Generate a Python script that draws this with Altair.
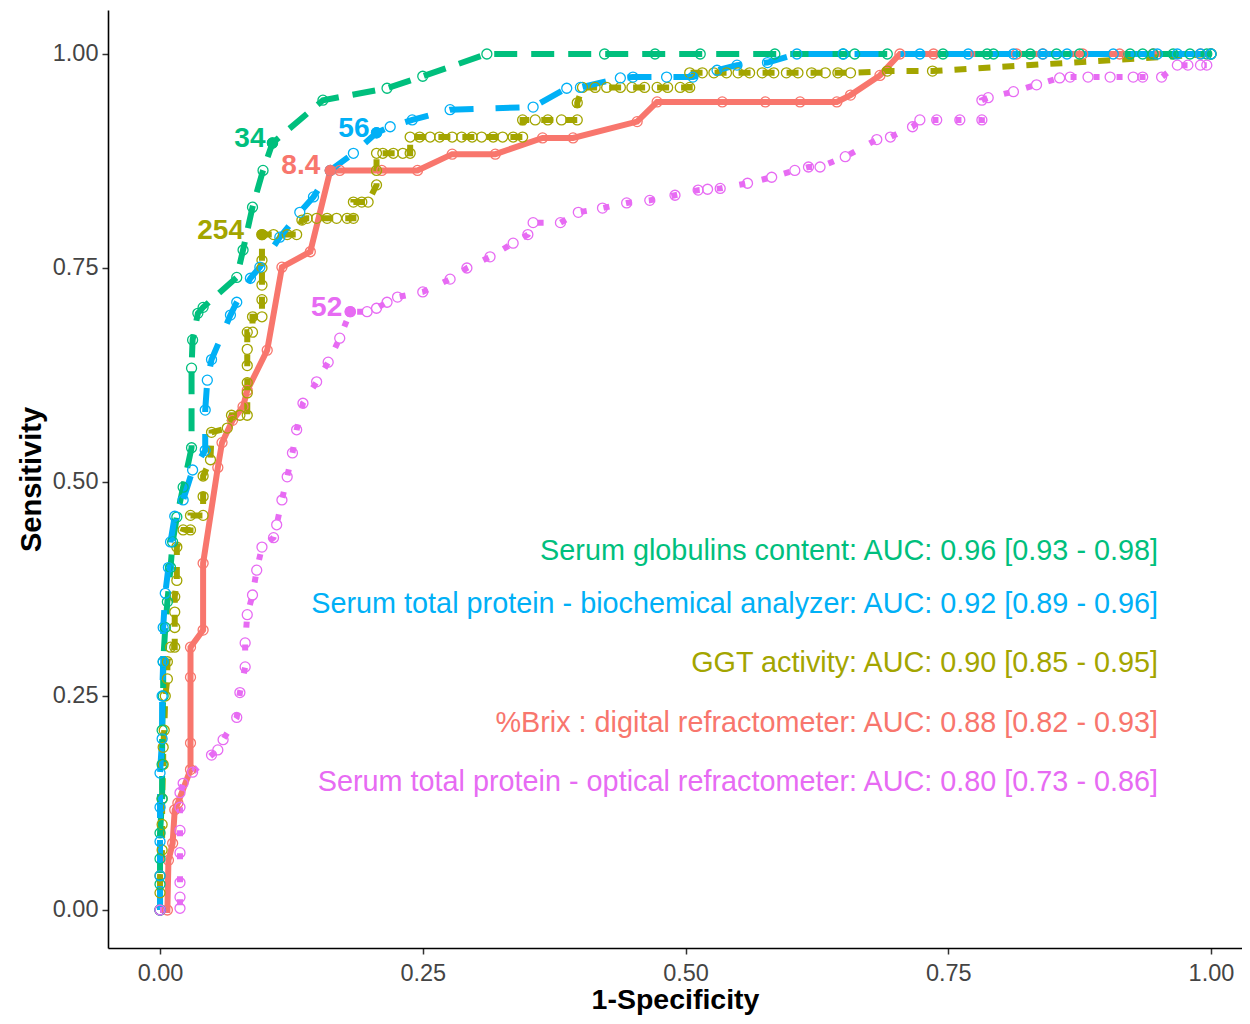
import altair as alt
import pandas as pd

# ---------------- data ----------------
series_names = [
    "%Brix : digital refractometer",
    "GGT activity",
    "Serum globulins content",
    "Serum total protein - biochemical analyzer",
    "Serum total protein - optical refractometer",
]
series_colors = ["#F8766D", "#A3A500", "#00BF7D", "#00B0F6", "#E76BF3"]

red_x = [0.0, 0.007, 0.008, 0.012, 0.014, 0.017, 0.029, 0.029, 0.029, 0.029, 0.041, 0.041, 0.055, 0.059, 0.069,
         0.079, 0.083, 0.102, 0.116, 0.143, 0.162, 0.171, 0.211, 0.245, 0.278, 0.319, 0.364, 0.393, 0.454, 0.473,
         0.535, 0.576, 0.609, 0.644, 0.657, 0.685, 0.704, 0.736, 0.815, 0.840, 0.878, 0.913, 0.945, 0.990, 1.0]
red_y = [0.0, 0.0, 0.058, 0.078, 0.117, 0.125, 0.164, 0.195, 0.272, 0.307, 0.327, 0.405, 0.517, 0.546, 0.572,
         0.588, 0.607, 0.654, 0.751, 0.769, 0.864, 0.864, 0.864, 0.864, 0.883, 0.883, 0.902, 0.902, 0.921, 0.944,
         0.944, 0.944, 0.944, 0.944, 0.952, 0.975, 1.0, 1.0, 1.0, 1.0, 1.0, 1.0, 1.0, 1.0, 1.0]

olive_x = [0.0, 0.0, 0.0, 0.002, 0.002, 0.002, 0.003, 0.003, 0.004, 0.005, 0.007, 0.007, 0.010, 0.014, 0.014,
           0.014, 0.014, 0.016, 0.016, 0.022, 0.029, 0.029, 0.041, 0.041, 0.041, 0.048, 0.049, 0.064, 0.068, 0.076,
           0.083, 0.083, 0.083, 0.083, 0.083, 0.083, 0.088, 0.088, 0.097, 0.097, 0.097, 0.097, 0.097, 0.097, 0.108,
           0.121, 0.130, 0.135, 0.140, 0.149, 0.159, 0.168, 0.178, 0.184, 0.184, 0.192, 0.198, 0.206, 0.206, 0.206,
           0.212, 0.222, 0.231, 0.238, 0.238, 0.247, 0.257, 0.266, 0.278, 0.287, 0.297, 0.306, 0.317, 0.326, 0.336,
           0.345, 0.345, 0.357, 0.369, 0.382, 0.397, 0.397, 0.402, 0.414, 0.425, 0.438, 0.449, 0.461, 0.473, 0.483,
           0.495, 0.504, 0.504, 0.516, 0.527, 0.539, 0.550, 0.561, 0.573, 0.584, 0.596, 0.607, 0.620, 0.633, 0.645,
           0.657, 0.692, 0.735, 1.0]
olive_y = [0.0, 0.02, 0.04, 0.07, 0.10, 0.13, 0.17, 0.19, 0.21, 0.25, 0.27, 0.29, 0.307, 0.307, 0.33,
           0.348, 0.366, 0.385, 0.424, 0.444, 0.444, 0.461, 0.461, 0.483, 0.507, 0.526, 0.558, 0.563, 0.578, 0.578,
           0.578, 0.604, 0.616, 0.636, 0.655, 0.675, 0.675, 0.693, 0.693, 0.713, 0.730, 0.750, 0.759, 0.789, 0.789,
           0.789, 0.789, 0.806, 0.808, 0.808, 0.808, 0.808, 0.808, 0.808, 0.827, 0.827, 0.827, 0.847, 0.864, 0.884,
           0.884, 0.884, 0.884, 0.884, 0.903, 0.903, 0.903, 0.903, 0.903, 0.903, 0.903, 0.903, 0.903, 0.903, 0.903,
           0.903, 0.923, 0.923, 0.923, 0.923, 0.923, 0.943, 0.961, 0.961, 0.961, 0.961, 0.961, 0.961, 0.961, 0.961,
           0.961, 0.961, 0.978, 0.978, 0.978, 0.978, 0.978, 0.978, 0.978, 0.978, 0.978, 0.978, 0.978, 0.978, 0.978,
           0.978, 0.980, 0.980, 1.0]

green_x = [0.0, 0.0, 0.0, 0.0, 0.002, 0.002, 0.002, 0.003, 0.003, 0.005, 0.007, 0.010, 0.012, 0.016, 0.022,
           0.030, 0.030, 0.031, 0.036, 0.041, 0.073, 0.079, 0.088, 0.098, 0.107, 0.155, 0.216, 0.250, 0.311, 0.423,
           0.471, 0.514, 0.585, 0.650, 0.661, 0.692, 0.745, 0.787, 0.793, 0.828, 0.853, 0.875, 0.923, 0.935, 0.945,
           0.964, 0.980, 0.996, 1.0]
green_y = [0.0, 0.03, 0.06, 0.09, 0.13, 0.17, 0.21, 0.25, 0.29, 0.33, 0.36, 0.40, 0.43, 0.459, 0.494,
           0.540, 0.633, 0.666, 0.697, 0.704, 0.739, 0.771, 0.821, 0.864, 0.896, 0.946, 0.960, 0.974, 1.0, 1.0,
           1.0, 1.0, 1.0, 1.0, 1.0, 1.0, 1.0, 1.0, 1.0, 1.0, 1.0, 1.0, 1.0, 1.0, 1.0,
           1.0, 1.0, 1.0, 1.0]

blue_x = [0.0, 0.0, 0.0, 0.0, 0.0, 0.002, 0.002, 0.003, 0.003, 0.005, 0.008, 0.010, 0.014, 0.022, 0.031,
          0.043, 0.043, 0.045, 0.049, 0.067, 0.073, 0.086, 0.095, 0.114, 0.133, 0.146, 0.162, 0.184, 0.206, 0.219,
          0.240, 0.276, 0.355, 0.387, 0.400, 0.438, 0.450, 0.482, 0.507, 0.530, 0.549, 0.578, 0.606, 0.650, 0.723,
          0.769, 0.812, 0.840, 0.863, 0.907, 0.949, 0.968, 0.990, 1.0]
blue_y = [0.0, 0.04, 0.08, 0.12, 0.16, 0.20, 0.25, 0.29, 0.33, 0.37, 0.40, 0.43, 0.46, 0.479, 0.514,
          0.537, 0.584, 0.619, 0.643, 0.695, 0.710, 0.738, 0.751, 0.786, 0.815, 0.833, 0.864, 0.884, 0.908, 0.915,
          0.923, 0.935, 0.938, 0.960, 0.961, 0.972, 0.973, 0.973, 0.973, 0.981, 0.987, 0.990, 1.0, 1.0, 1.0,
          1.0, 1.0, 1.0, 1.0, 1.0, 1.0, 1.0, 1.0, 1.0]

pink_x = [0.0, 0.019, 0.019, 0.019, 0.019, 0.019, 0.019, 0.019, 0.022, 0.031, 0.049, 0.055, 0.060, 0.073, 0.076,
          0.081, 0.081, 0.083, 0.088, 0.092, 0.097, 0.108, 0.111, 0.116, 0.121, 0.126, 0.130, 0.136, 0.149, 0.160,
          0.171, 0.181, 0.197, 0.206, 0.216, 0.226, 0.250, 0.276, 0.292, 0.314, 0.336, 0.350, 0.355, 0.381, 0.398,
          0.421, 0.444, 0.466, 0.490, 0.512, 0.521, 0.533, 0.559, 0.582, 0.604, 0.617, 0.628, 0.652, 0.682, 0.695,
          0.716, 0.723, 0.739, 0.761, 0.782, 0.782, 0.788, 0.812, 0.834, 0.856, 0.866, 0.883, 0.904, 0.926, 0.935,
          0.953, 0.968, 0.978, 0.990, 0.996]
pink_y = [0.0, 0.002, 0.015, 0.032, 0.067, 0.093, 0.120, 0.137, 0.148, 0.161, 0.181, 0.187, 0.199, 0.225, 0.254,
          0.284, 0.312, 0.345, 0.368, 0.397, 0.424, 0.435, 0.450, 0.479, 0.506, 0.534, 0.561, 0.592, 0.617, 0.640,
          0.668, 0.699, 0.699, 0.703, 0.710, 0.716, 0.722, 0.737, 0.750, 0.763, 0.779, 0.789, 0.803, 0.803, 0.815,
          0.820, 0.826, 0.829, 0.835, 0.841, 0.842, 0.843, 0.849, 0.856, 0.864, 0.868, 0.868, 0.880, 0.900, 0.903,
          0.915, 0.923, 0.923, 0.923, 0.923, 0.946, 0.949, 0.956, 0.964, 0.972, 0.973, 0.973, 0.973, 0.973, 0.973,
          0.973, 0.987, 0.987, 0.987, 0.987]

series_x = [red_x, olive_x, green_x, blue_x, pink_x]
series_y = [red_y, olive_y, green_y, blue_y, pink_y]

cutoff_labels = ["8.4", "254", "34", "56", "52"]
cutoff_x = [0.162, 0.097, 0.107, 0.206, 0.181]
cutoff_y = [0.864, 0.789, 0.896, 0.908, 0.699]

auc_labels = [
    "%Brix : digital refractometer: AUC: 0.88 [0.82 - 0.93]",
    "GGT activity: AUC: 0.90 [0.85 - 0.95]",
    "Serum globulins content: AUC: 0.96 [0.93 - 0.98]",
    "Serum total protein - biochemical analyzer: AUC: 0.92 [0.89 - 0.96]",
    "Serum total protein - optical refractometer: AUC: 0.80 [0.73 - 0.86]",
]
auc_x = [0.9496, 0.9496, 0.9496, 0.9496, 0.9496]
auc_y = [0.2185, 0.2886, 0.4194, 0.3575, 0.1495]

# ---------------- styles ----------------
FONT = "Liberation Sans"
line_dash = [None, [12, 12], [23, 14], [24, 22], [6, 17]]
line_width = [6, 6, 6, 6, 6]
label_dx = [-10, -18, -7, -7, -8]

xscale = alt.Scale(domain=[-0.0495, 1.0295], nice=False, zero=False)
yscale = alt.Scale(domain=[-0.0444, 1.0514], nice=False, zero=False)

common_axis = dict(grid=False, domainColor="black", domainWidth=1.6, tickColor="#333333", tickWidth=1.5,
                   tickSize=6, labelFontSize=23.5, labelColor="#444444", labelFont=FONT, titleFont=FONT,
                   titleFontWeight="bold", titleColor="black", format=".2f",
                   values=[0, 0.25, 0.5, 0.75, 1.0], labelFlush=False)
xaxis = alt.Axis(labelPadding=7, titlePadding=1, titleFontSize=28.5, **common_axis)
yaxis = alt.Axis(labelPadding=4, titlePadding=6, titleFontSize=29, **common_axis)

X = alt.X("x:Q", scale=xscale, axis=xaxis, title="1-Specificity")
Y = alt.Y("y:Q", scale=yscale, axis=yaxis, title="Sensitivity")

frames = []
for i in range(len(series_names)):
    frames.append(pd.DataFrame({"x": series_x[i], "y": series_y[i], "i": list(range(len(series_x[i])))}))

layers = []
# lines
for i, df in enumerate(frames):
    kw = dict(color=series_colors[i], strokeWidth=line_width[i], strokeCap="butt", clip=True)
    if line_dash[i] is not None:
        kw["strokeDash"] = line_dash[i]
    layers.append(alt.Chart(df).mark_line(**kw).encode(x=X, y=Y, order=alt.Order("i:Q")))
# open points
for i, df in enumerate(frames):
    layers.append(alt.Chart(df).mark_point(shape="circle", filled=False, size=100, strokeWidth=1.3,
                                           color=series_colors[i], opacity=1).encode(x=X, y=Y))
# cutoff points and labels
for i in range(len(series_names)):
    cdf = pd.DataFrame({"x": [cutoff_x[i]], "y": [cutoff_y[i]], "t": [cutoff_labels[i]]})
    layers.append(alt.Chart(cdf).mark_circle(size=130, color=series_colors[i], opacity=1).encode(x=X, y=Y))
    layers.append(alt.Chart(cdf).mark_text(font=FONT, fontSize=28, fontWeight="bold", align="right",
                                           baseline="middle", dx=label_dx[i], dy=-4,
                                           color=series_colors[i]).encode(x=X, y=Y, text="t:N"))
# AUC annotations
for i in range(len(series_names)):
    adf = pd.DataFrame({"x": [auc_x[i]], "y": [auc_y[i]], "t": [auc_labels[i]]})
    layers.append(alt.Chart(adf).mark_text(font=FONT, fontSize=28.8, align="right", baseline="middle",
                                           color=series_colors[i]).encode(x=X, y=Y, text="t:N"))

chart = alt.layer(*layers).properties(
    width=1134, height=938,
    autosize=alt.AutoSizeParams(type="none"),
    padding={"left": 100, "top": 2, "right": 0, "bottom": 68},
    background="white",
).configure_view(stroke=None)

chart.save("out.html", embed_options={"renderer": "svg", "actions": False})
